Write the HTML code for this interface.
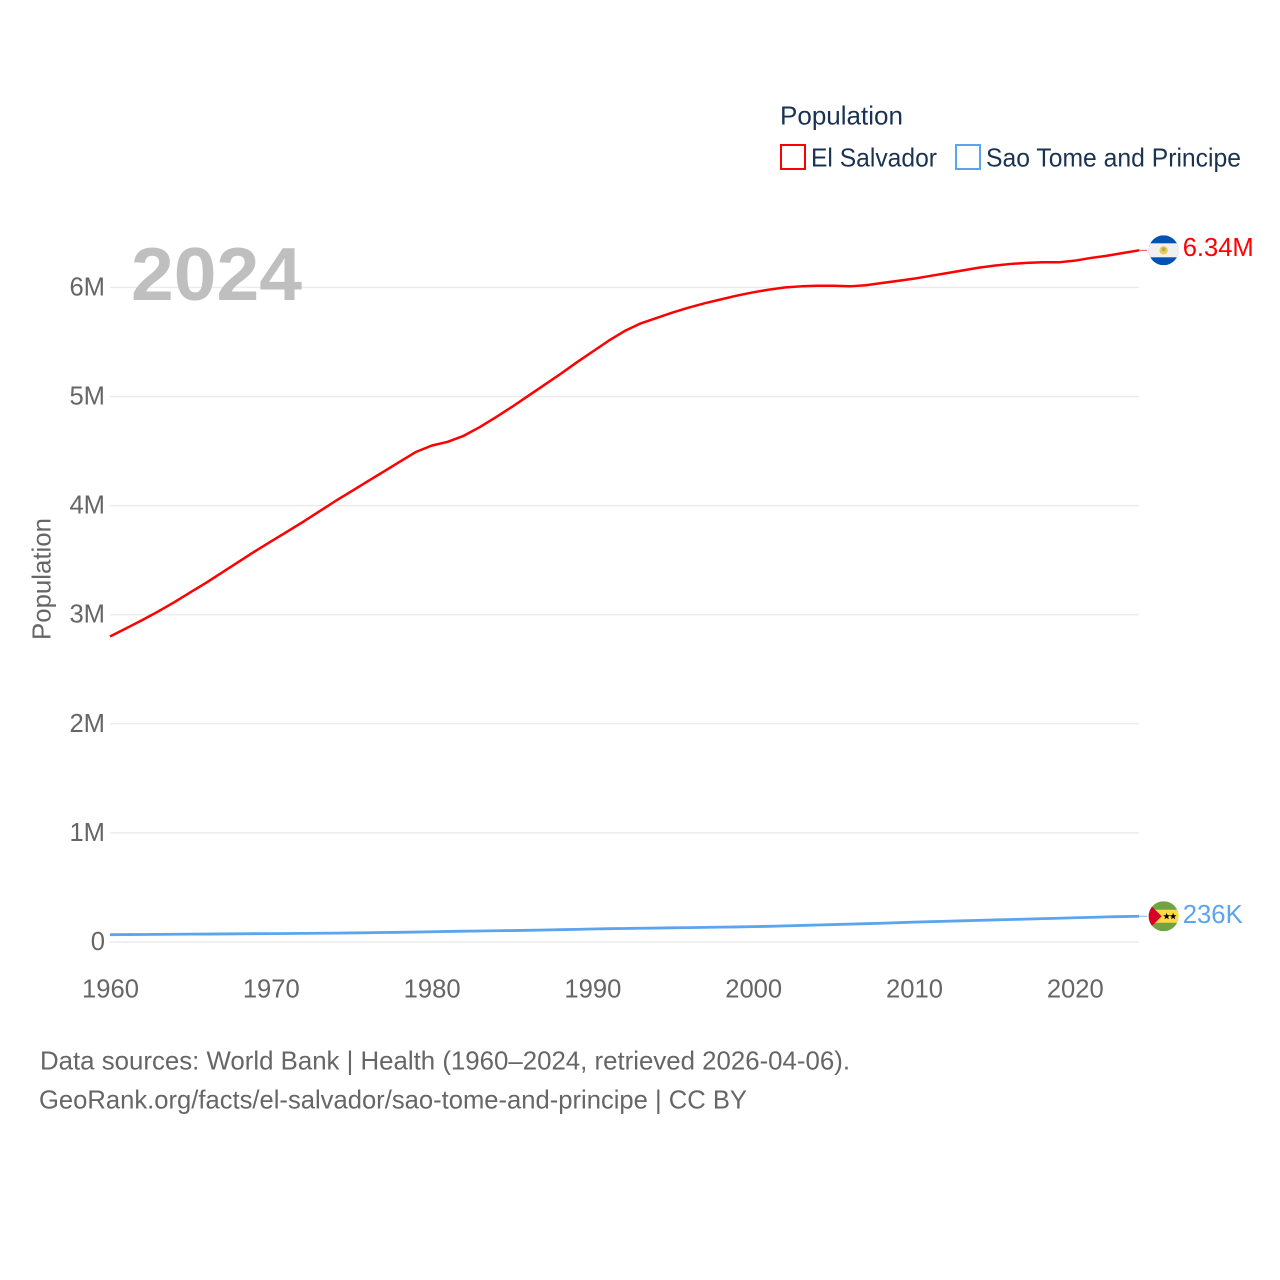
<!DOCTYPE html>
<html lang="en">
<head>
<meta charset="utf-8">
<title>Population: El Salvador and Sao Tome and Principe</title>
<style>
html,body{margin:0;padding:0;background:#fff;width:1280px;height:1280px;overflow:hidden}
svg{display:block}
text{font-family:"Liberation Sans",sans-serif}
</style>
</head>
<body>
<svg id="chart" xmlns="http://www.w3.org/2000/svg" width="1280" height="1280" viewBox="0 0 1280 1280">
  <rect width="1280" height="1280" fill="#fff"/>
  <g id="grid"></g>
  <g id="yticks"></g>
  <g id="xticks"></g>
  <text x="131" y="300" font-size="75" font-weight="700" fill="#bfbfbf" textLength="171" lengthAdjust="spacingAndGlyphs">2024</text>
  <text transform="translate(50.5,640) rotate(-90)" font-size="26" fill="#666" textLength="122" lengthAdjust="spacingAndGlyphs">Population</text>
  <g id="series"></g>

  <g>
    <text x="780" y="124.5" font-size="26" fill="#1a3353" textLength="123" lengthAdjust="spacingAndGlyphs">Population</text>
    <g>
      <rect x="781" y="145" width="24" height="24" fill="none" stroke="#ff0000" stroke-width="2"/>
      <text x="811" y="166.5" font-size="26" fill="#1a3353" textLength="126" lengthAdjust="spacingAndGlyphs">El Salvador</text>
    </g>
    <g>
      <rect x="956" y="145" width="24" height="24" fill="none" stroke="#5ba4ee" stroke-width="2"/>
      <text x="986" y="166.5" font-size="26" fill="#1a3353" textLength="255" lengthAdjust="spacingAndGlyphs">Sao Tome and Principe</text>
    </g>
  </g>

  <defs>
    <clipPath id="flag-clip"><circle cx="0" cy="0" r="15"/></clipPath>
  </defs>

  <g id="flag-sv">
    <g clip-path="url(#flag-clip)">
      <rect x="-15" y="-15" width="30" height="30" fill="#0052b4"/>
      <rect x="-15" y="-7" width="30" height="14" fill="#f0f0f0"/>
      <circle cx="0" cy="0" r="4.2" fill="#f2c94c"/>
      <circle cx="0" cy="-0.9" r="2" fill="#9bb86a"/>
    </g>
  </g>

  <g id="flag-st">
    <g clip-path="url(#flag-clip)">
      <rect x="-15" y="-15" width="30" height="30" fill="#6da544"/>
      <rect x="-15" y="-6.5" width="30" height="13" fill="#ffda44"/>
      <polygon points="-15,-13 -2,0 -15,13" fill="#d80027"/>
      <polygon points="3,-3.5 3.9,-1 6.5,-1 4.4,0.6 5.2,3 3,1.6 0.8,3 1.6,0.6 -0.5,-1 2.1,-1" fill="#000"/>
      <polygon points="9.5,-3.5 10.4,-1 13,-1 10.9,0.6 11.7,3 9.5,1.6 7.3,3 8.1,0.6 6,-1 8.6,-1" fill="#000"/>
    </g>
  </g>

  <g>
    <text x="40" y="1069.5" font-size="26" fill="#666" textLength="810" lengthAdjust="spacingAndGlyphs">Data sources: World Bank | Health (1960–2024, retrieved 2026-04-06).</text>
    <text x="39" y="1108.5" font-size="26" fill="#666" textLength="708" lengthAdjust="spacingAndGlyphs">GeoRank.org/facts/el-salvador/sao-tome-and-principe | CC BY</text>
  </g>
</svg>

<script>
var years = [1960,1961,1962,1963,1964,1965,1966,1967,1968,1969,
  1970,1971,1972,1973,1974,1975,1976,1977,1978,1979,
  1980,1981,1982,1983,1984,1985,1986,1987,1988,1989,
  1990,1991,1992,1993,1994,1995,1996,1997,1998,1999,
  2000,2001,2002,2003,2004,2005,2006,2007,2008,2009,
  2010,2011,2012,2013,2014,2015,2016,2017,2018,2019,
  2020,2021,2022,2023,2024];
var elSalvador = [2.80,2.875,2.95,3.03,3.115,3.205,3.295,3.39,3.485,3.58,
  3.67,3.76,3.85,3.945,4.04,4.13,4.22,4.31,4.40,4.49,
  4.55,4.585,4.64,4.72,4.81,4.905,5.005,5.105,5.205,5.31,
  5.41,5.51,5.60,5.67,5.72,5.77,5.815,5.855,5.89,5.925,
  5.955,5.98,6.00,6.01,6.015,6.015,6.01,6.02,6.04,6.06,
  6.08,6.105,6.13,6.155,6.18,6.20,6.215,6.225,6.23,6.23,
  6.245,6.27,6.29,6.315,6.34];
var saoTome = [0.067,0.068,0.069,0.070,0.071,0.072,0.073,0.074,0.075,0.076,
  0.077,0.078,0.079,0.080,0.081,0.083,0.085,0.087,0.089,0.091,
  0.094,0.097,0.099,0.101,0.103,0.105,0.107,0.110,0.113,0.116,
  0.119,0.122,0.124,0.126,0.128,0.130,0.132,0.134,0.136,0.138,
  0.141,0.144,0.148,0.152,0.156,0.160,0.164,0.168,0.172,0.177,
  0.182,0.186,0.190,0.194,0.198,0.202,0.206,0.210,0.214,0.218,
  0.222,0.226,0.230,0.233,0.236];
var yTickValues = [0,1,2,3,4,5,6];
var yTickLabels = ['0','1M','2M','3M','4M','5M','6M'];
var xTickValues = [1960,1970,1980,1990,2000,2010,2020];
var xTickLabels = ['1960','1970','1980','1990','2000','2010','2020'];
var elSalvadorEndLabel = '6.34M';
var saoTomeEndLabel = '236K';

var NS = 'http://www.w3.org/2000/svg';
function xScale(year){ return 110 + (year - 1960) * 16.08; }
function yScale(millions){ return 942 - millions * 109.1; }
function svgEl(tag, attrs){
  var el = document.createElementNS(NS, tag);
  for (var k in attrs) { el.setAttribute(k, attrs[k]); }
  return el;
}
function linePoints(values){
  return values.map(function(v, i){
    return xScale(years[i]).toFixed(2) + ',' + yScale(v).toFixed(2);
  }).join(' ');
}

var gridG = document.getElementById('grid');
var yG = document.getElementById('yticks');
var xG = document.getElementById('xticks');
var seriesG = document.getElementById('series');
var svgRoot = document.getElementById('chart');

yTickValues.forEach(function(v, i){
  var gl = svgEl('line', {x1:110, x2:1139, y1:yScale(v), y2:yScale(v), stroke:'#ececec', 'stroke-width':1.5});
  
  
  gridG.appendChild(gl);
  var t = svgEl('text', {x:105, y:yScale(v) + 8, 'text-anchor':'end', 'font-size':25.6, fill:'#666'});
  
  
  t.textContent = yTickLabels[i];
  yG.appendChild(t);
});

xTickValues.forEach(function(v, i){
  var t = svgEl('text', {x:xScale(v) + 0.5, y:997.5, 'text-anchor':'middle', 'font-size':25.6, fill:'#666'});
  
  
  t.textContent = xTickLabels[i];
  xG.appendChild(t);
});

var lineSv = svgEl('polyline', {points:linePoints(elSalvador), fill:'none', stroke:'#ff0000', 'stroke-width':2.5, 'stroke-linejoin':'round'});


seriesG.appendChild(lineSv);

var lineSt = svgEl('polyline', {points:linePoints(saoTome), fill:'none', stroke:'#5ba4ee', 'stroke-width':2.8, 'stroke-linejoin':'round'});


seriesG.appendChild(lineSt);

var lastYear = years[years.length - 1];
var endX = xScale(lastYear);
var endSv = yScale(elSalvador[elSalvador.length - 1]);
var endSt = yScale(saoTome[saoTome.length - 1]);

var connSv = svgEl('line', {x1:endX, x2:endX + 8, y1:endSv, y2:endSv, stroke:'#ff0000', 'stroke-width':1, opacity:0.7});


seriesG.appendChild(connSv);

var connSt = svgEl('line', {x1:endX, x2:endX + 8, y1:endSt, y2:endSt, stroke:'#5ba4ee', 'stroke-width':1, opacity:0.8});


seriesG.appendChild(connSt);

document.getElementById('flag-sv').setAttribute('transform', 'translate(' + (endX + 24.5) + ',' + endSv + ')');
document.getElementById('flag-st').setAttribute('transform', 'translate(' + (endX + 24.5) + ',' + endSt + ')');

var labelSv = svgEl('text', {x:endX + 43.6, y:endSv + 5.5, 'font-size':25.6, fill:'#ff0000', textLength:71, lengthAdjust:'spacingAndGlyphs'});


labelSv.textContent = elSalvadorEndLabel;
svgRoot.appendChild(labelSv);

var labelSt = svgEl('text', {x:endX + 43.6, y:endSt + 6.5, 'font-size':25.6, fill:'#5ba4ee', textLength:60, lengthAdjust:'spacingAndGlyphs'});


labelSt.textContent = saoTomeEndLabel;
svgRoot.appendChild(labelSt);
</script>
</body>
</html>
